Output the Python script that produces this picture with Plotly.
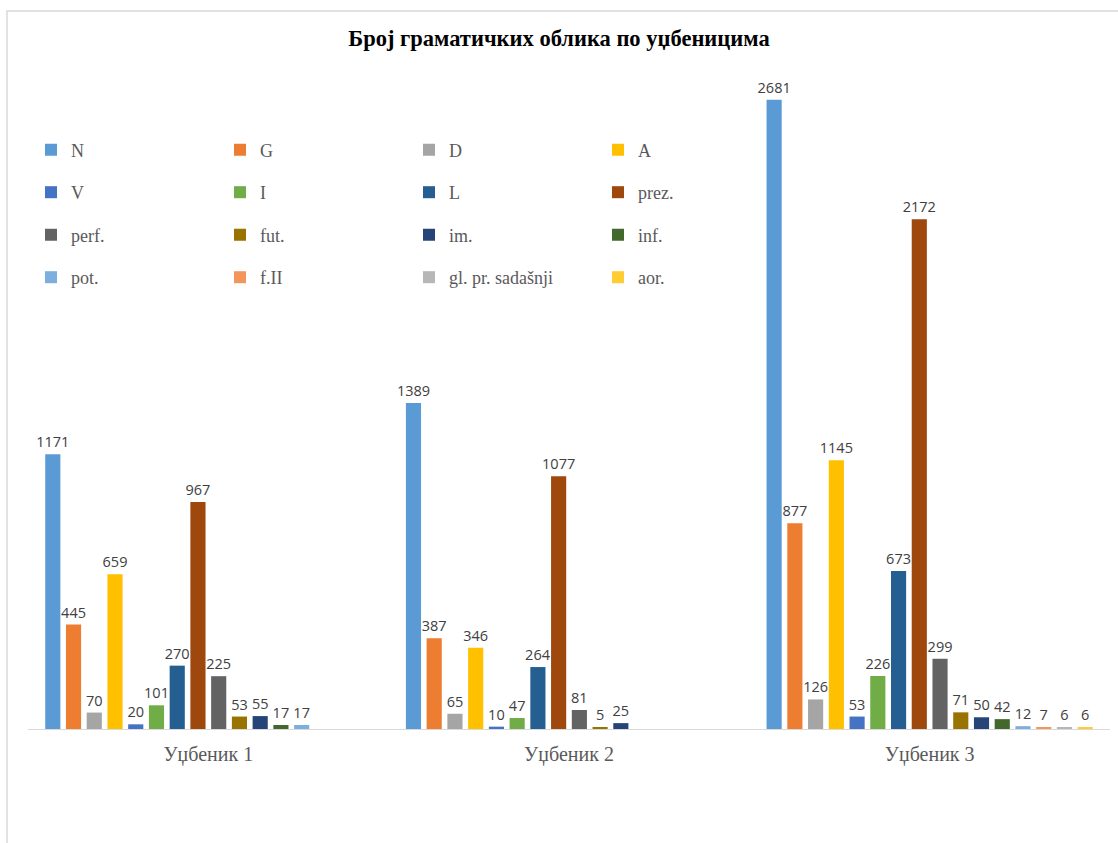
import plotly.graph_objects as go

# Categories (textbooks) and grammatical-form counts per textbook
textbooks = ["Уџбеник 1", "Уџбеник 2", "Уџбеник 3"]

forms = ["N", "G", "D", "A", "V", "I", "L", "prez.",
         "perf.", "fut.", "im.", "inf.", "pot.", "f.II", "gl. pr. sadašnji", "aor."]

N = [1171, 1389, 2681]
G = [445, 387, 877]
D = [70, 65, 126]
A = [659, 346, 1145]
V = [20, 10, 53]
I = [101, 47, 226]
L = [270, 264, 673]
prez = [967, 1077, 2172]
perf = [225, 81, 299]
fut = [53, 5, 71]
im = [55, 25, 50]
inf = [17, None, 42]
pot = [17, None, 12]
fII = [None, None, 7]
gl_pr_sad = [None, None, 6]
aor = [None, None, 6]

series = [N, G, D, A, V, I, L, prez, perf, fut, im, inf, pot, fII, gl_pr_sad, aor]

colors = ["#5B9BD5", "#ED7D31", "#A5A5A5", "#FFC000", "#4472C4", "#70AD47",
          "#255E91", "#9E480E", "#636363", "#997300", "#264478", "#43682B",
          "#7CAFDD", "#F1975A", "#B7B7B7", "#FFCD33"]

SERIF = "Liberation Serif, Times New Roman, DejaVu Serif, serif"

W, H = 1118, 843
ML, MR, MT, MB = 28, 8, 25, 114
PW, PH = W - ML - MR, H - MT - MB


def px_to_paper_y(py):
    return 1 - (py - MT) / PH


def px_to_paper_x(px):
    return (px - ML) / PW


legend_names = ["legend", "legend2", "legend3", "legend4"]

fig = go.Figure()
for i, (name, vals, col) in enumerate(zip(forms, series, colors)):
    fig.add_trace(go.Bar(
        x=textbooks, y=vals, name=name,
        marker=dict(color=col, line=dict(width=0)),
        text=[("" if v is None else str(v)) for v in vals],
        textposition="outside",
        textfont=dict(family="Open Sans", size=14.5, color="#404040"),
        cliponaxis=False,
        constraintext="none",
        legend=legend_names[i // 4],
    ))

row_y = [150, 192.5, 235, 277.5]
legend_common = dict(
    orientation="h",
    xanchor="left", yanchor="middle",
    x=px_to_paper_x(31),
    entrywidth=144, entrywidthmode="pixels",
    font=dict(family=SERIF, size=18, color="#595959"),
    bgcolor="rgba(0,0,0,0)", borderwidth=0,
    itemclick=False, itemdoubleclick=False,
)
legend_layout = {}
for ln, ry in zip(legend_names, row_y):
    legend_layout[ln] = dict(legend_common, y=px_to_paper_y(ry))

fig.update_layout(
    width=W, height=H,
    margin=dict(l=ML, r=MR, t=MT, b=MB),
    paper_bgcolor="white", plot_bgcolor="white",
    barmode="group", bargap=0.08, bargroupgap=0.27,
    showlegend=True,
    font=dict(family=SERIF),
    title=dict(
        text="<b>Број граматичких облика по уџбеницима</b>",
        x=0.5, xanchor="center", y=1 - 38 / H, yanchor="middle",
        font=dict(family=SERIF, size=22.5, color="#000000"),
    ),
    xaxis=dict(
        showline=True, linecolor="#D9D9D9", linewidth=1,
        showgrid=False, ticks="", zeroline=False,
        ticklabelstandoff=7,
        tickfont=dict(family=SERIF, size=20, color="#595959"),
    ),
    yaxis=dict(
        range=[0, 3000], visible=False, showgrid=False, zeroline=False,
    ),
    shapes=[dict(
        type="rect", xref="paper", yref="paper",
        x0=px_to_paper_x(7), x1=px_to_paper_x(1130),
        y0=px_to_paper_y(11), y1=px_to_paper_y(860),
        line=dict(color="#D9D9D9", width=1.5), fillcolor="rgba(0,0,0,0)",
        layer="below",
    )],
    **legend_layout,
)

fig.write_html("out.html")
